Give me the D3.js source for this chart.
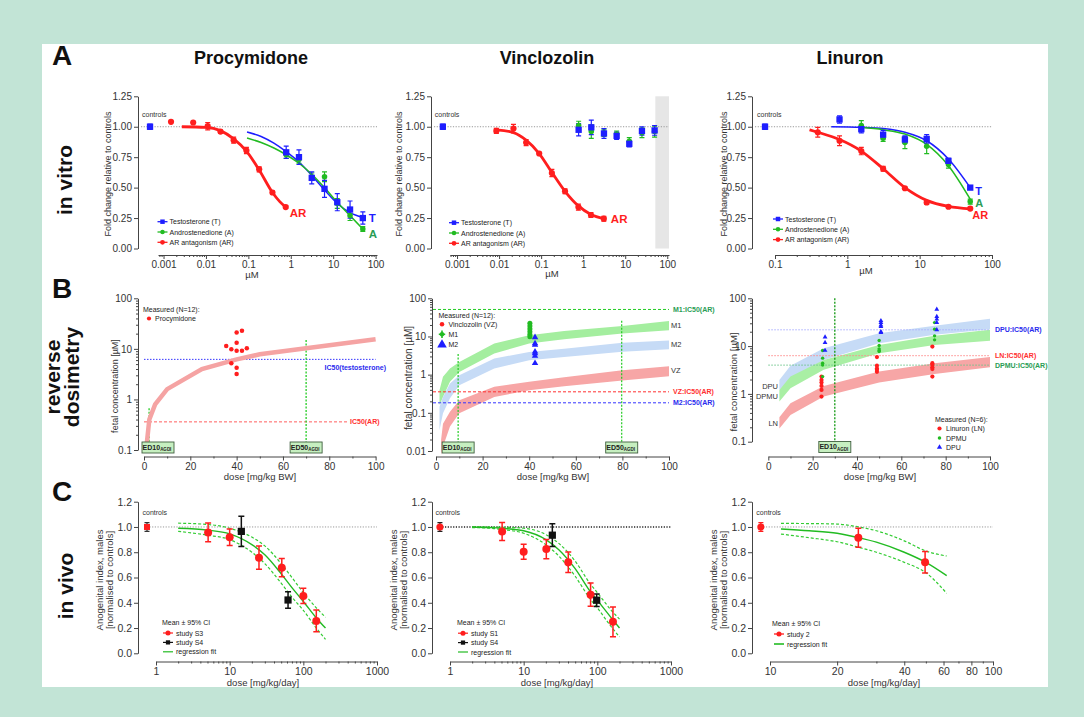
<!DOCTYPE html>
<html><head><meta charset="utf-8">
<script src="https://cdn.jsdelivr.net/npm/d3@7"></script>
<style>body{margin:0;background:#c2e4d6;} svg{display:block;}</style>
</head><body><svg id="c" width="1084" height="717"></svg>
<script>
// ================= DATA =================
// ---- Row A: in vitro (x = µM, y = fold change) ----
const aProcDose = [0.78, 1.56, 3.125, 6.25, 12.5, 25, 50];
const aProcT    = [0.79, 0.75, 0.58, 0.49, 0.38, 0.32, 0.25];
const aProcTErr = [0.05, 0.06, 0.05, 0.07, 0.07, 0.07, 0.05];
const aProcA    = [0.77, 0.73, 0.59, 0.59, 0.37, 0.27, 0.16];
const aProcAErr = [0.03, 0.03, 0.03, 0.04, 0.04, 0.04, 0.02];
const aProcARDose = [0.0015, 0.005, 0.011, 0.022, 0.045, 0.09, 0.18, 0.37, 0.76];
const aProcAR     = [1.04, 1.035, 1.005, 0.96, 0.89, 0.805, 0.65, 0.46, 0.34];
const aProcARErr  = [0, 0, 0.03, 0.012, 0.025, 0.025, 0.02, 0.012, 0.01];
const aProcTFitX  = [0.093, 0.2, 0.4, 0.78, 1.56, 3.125, 6.25, 12.5, 25, 50];
const aProcTFitY  = [0.957, 0.92, 0.865, 0.795, 0.71, 0.60, 0.48, 0.37, 0.295, 0.255];
const aProcAFitY  = [0.908, 0.87, 0.825, 0.77, 0.70, 0.61, 0.50, 0.38, 0.27, 0.16];
const aProcARFitX = [0.0027, 0.01, 0.022, 0.045, 0.09, 0.18, 0.37, 0.55, 0.76];
const aProcARFitY = [1.0, 0.995, 0.968, 0.90, 0.80, 0.645, 0.46, 0.385, 0.34];

const aVincDose = [0.78, 1.56, 3.125, 6.25, 12.5, 25, 50];
const aVincT    = [0.975, 0.995, 0.945, 0.925, 0.86, 0.965, 0.97];
const aVincTErr = [0.05, 0.06, 0.04, 0.03, 0.025, 0.035, 0.04];
const aVincA    = [1.01, 0.96, 0.95, 0.94, 0.88, 0.95, 0.96];
const aVincAErr = [0.035, 0.055, 0.03, 0.025, 0.03, 0.04, 0.045];
const aVincARDose = [0.0086, 0.022, 0.044, 0.09, 0.18, 0.37, 0.77, 1.53, 3.1];
const aVincAR     = [0.966, 0.985, 0.87, 0.78, 0.62, 0.47, 0.34, 0.275, 0.245];
const aVincARErr  = [0.02, 0.035, 0.025, 0.01, 0.03, 0.02, 0.025, 0.02, 0.02];
const aVincARFitY = [0.975, 0.952, 0.89, 0.78, 0.625, 0.47, 0.35, 0.28, 0.245];
const aVincCytotox = [52, 110];

const aLinDose   = [0.39, 0.78, 1.56, 3.125, 6.25, 12.5, 25, 50];
const aLinAR     = [0.955, 0.885, 0.80, 0.655, 0.495, 0.378, 0.343, 0.328];
const aLinARErr  = [0.04, 0.04, 0.03, 0.02, 0.01, 0.015, 0.01, 0.01];
const aLinTDose  = [0.78, 1.56, 3.125, 6.25, 12.5, 25, 50];
const aLinT      = [1.06, 0.98, 0.935, 0.895, 0.90, 0.72, 0.50];
const aLinTErr   = [0.03, 0.03, 0.035, 0.03, 0.035, 0.02, 0.01];
const aLinADose  = [1.56, 3.125, 6.25, 12.5, 25, 50];
const aLinA      = [1.01, 0.905, 0.87, 0.84, 0.69, 0.385];
const aLinAErr   = [0.04, 0.025, 0.05, 0.06, 0.03, 0.02];
const aLinARFitX = [0.3, 0.39, 0.78, 1.56, 3.125, 6.25, 12.5, 25, 50];
const aLinARFitY = [0.975, 0.955, 0.895, 0.80, 0.655, 0.50, 0.395, 0.345, 0.325];
const aLinTFitX  = [0.6, 1.56, 3.125, 6.25, 12.5, 25, 50];
const aLinTFitY  = [1.0, 0.995, 0.985, 0.955, 0.885, 0.735, 0.50];
const aLinAFitX  = [1.56, 3.125, 6.25, 12.5, 25, 50];
const aLinAFitY  = [0.995, 0.975, 0.94, 0.855, 0.68, 0.405];

// controls: nominal position on the broken part of each x axis, value, error
const ctrlPos = {aProc: 0.00048, aVinc: 0.00046, aLin: 0.0728, cProc: 0.755, cVinc: 0.73, cLin: 9.1};
const aCtrl = [1.0, 0.022];

// ---- Row B: reverse dosimetry (x = dose mg/kg BW, y = fetal conc µM) ----
const bProcLineX = [0.9, 2.3, 4.8, 10, 25, 40, 50, 70, 100];
const bProcLineY = [0.1, 0.40, 0.8, 1.6, 4.0, 6.2, 7.8, 10.3, 15.5];
const bProcPtsX  = [35.5, 37.7, 37.7, 40, 40, 40, 40, 40, 42.3, 42.3, 44.4];
const bProcPtsY  = [11.4, 9.8, 5.2, 21, 13.2, 9.2, 4.25, 3.2, 22.9, 9.2, 10.3];
const bProcIC50  = [6.2, 0.36];         // testosterone, AR
const bProcED    = [2.2, 70];            // ED10, ED50 doses
const bProcEDTop = [0.67, 15];

const bVincDose = [1.5, 3, 6, 10, 25, 40, 55, 80, 100];
const bVincM1Lo = [0.16, 0.26, 0.65, 1.18, 3.6, 6.5, 8.4, 11.9, 14.5];
const bVincM1Hi = [0.39, 0.88, 1.45, 2.16, 6.5, 10.8, 14, 18.9, 25.6];
const bVincM2Lo = [0.035, 0.098, 0.24, 0.53, 1.45, 2.4, 2.9, 4.0, 4.6];
const bVincM2Hi = [0.144, 0.26, 0.59, 0.97, 2.65, 3.95, 4.8, 6.9, 7.9];
const bVincVZDose = [2.2, 3, 6, 10, 25, 40, 55, 80, 100];
const bVincVZLo = [0.008, 0.013, 0.044, 0.098, 0.26, 0.39, 0.5, 0.7, 0.91];
const bVincVZHi = [0.02, 0.052, 0.107, 0.215, 0.48, 0.65, 0.85, 1.3, 1.67];
const bVincM1PtsY = [22.2, 18.9, 15.8, 13.2, 11.2, 9.8];
const bVincM2PtsY = [9.5, 6.6, 6.0, 4.0, 3.6, 3.1, 2.0];
const bVincPtsDose = [40.3, 42.5];
const bVincIC50 = [51, 0.355, 0.183];    // M1, VZ, M2
const bVincED = [9.5, 79.7];
const bVincEDTop = [3.5, 26];

const bLinDose  = [5, 10, 25, 50, 75, 100];
const bLinDPULo = [1.21, 1.96, 5.15, 11.5, 17.2, 22.6];
const bLinDPUHi = [1.96, 3.86, 9.0, 18.6, 26.5, 37.2];
const bLinDPMULo = [0.69, 1.31, 3.2, 7.1, 10.6, 12.9];
const bLinDPMUHi = [1.21, 2.3, 5.15, 10.6, 16.4, 21.9];
const bLinLNLo  = [0.19, 0.36, 0.88, 1.73, 2.6, 3.6];
const bLinLNHi  = [0.325, 0.64, 1.47, 2.94, 4.4, 5.9];
const bLinLNX   = [24, 24, 24, 24, 24, 24, 49, 49, 49, 49, 49, 74, 74, 74, 74, 74, 74];
const bLinLNY   = [2.3, 1.96, 1.73, 1.47, 1.21, 0.88, 5.9, 3.9, 3.4, 3.2, 2.9, 9.8, 4.4, 4.05, 3.6, 3.3, 2.3];
const bLinDPMUX = [24.5, 24.5, 24.5, 24.5, 24.5, 50, 50, 50, 50, 50, 75, 75, 75, 75];
const bLinDPMUY = [8.1, 5.6, 4.4, 4.0, 2.3, 13.1, 10.3, 8.75, 8.1, 7.7, 31, 22.6, 16.4, 13.5];
const bLinDPUX  = [25.6, 25.6, 25.6, 50.8, 50.8, 50.8, 50.8, 50.8, 50.8, 76, 76, 76, 76, 76];
const bLinDPUY  = [15.4, 11.9, 8.1, 34, 31, 27.6, 25.7, 20, 19.2, 59, 41.5, 36.5, 31, 21.9];
const bLinIC50  = [21.9, 6.3, 4.0];      // DPU, LN, DPMU
const bLinED    = [30];

// ---- Row C: in vivo (x = dose mg/kg/day, y = AGD index) ----
const cCtrl = [1.0, 0.035];
const cProcS3X = [5.1, 10, 25, 51, 100, 150];
const cProcS3Y = [0.957, 0.918, 0.757, 0.678, 0.454, 0.256];
const cProcS3E = [0.075, 0.065, 0.092, 0.072, 0.06, 0.086];
const cProcS4X = [14.4, 62];
const cProcS4Y = [0.965, 0.422];
const cProcS4E = [0.12, 0.065];
const cProcFitX  = [2, 5, 10, 20, 30, 50, 70, 100, 150, 200];
const cProcFitY  = [0.99, 0.975, 0.945, 0.86, 0.78, 0.63, 0.52, 0.41, 0.28, 0.20];
const cProcFitHi = [1.03, 1.02, 0.99, 0.92, 0.85, 0.71, 0.60, 0.48, 0.36, 0.285];
const cProcFitLo = [0.965, 0.935, 0.90, 0.80, 0.71, 0.555, 0.445, 0.34, 0.20, 0.11];

const cVincS1X = [5.1, 10, 20.3, 40.3, 81, 163];
const cVincS1Y = [0.964, 0.804, 0.825, 0.72, 0.464, 0.249];
const cVincS1E = [0.072, 0.06, 0.076, 0.081, 0.092, 0.118];
const cVincS4X = [24.5, 98];
const cVincS4Y = [0.935, 0.42];
const cVincS4E = [0.09, 0.05];
const cVincFitX  = [2, 3.5, 5, 10, 20, 30, 50, 80, 100, 150, 200];
const cVincFitY  = [1.0, 0.995, 0.99, 0.97, 0.90, 0.82, 0.67, 0.49, 0.42, 0.29, 0.20];
const cVincFitHi = [1.0, 1.0, 0.998, 0.99, 0.94, 0.87, 0.73, 0.55, 0.48, 0.35, 0.27];
const cVincFitLo = [0.995, 0.99, 0.98, 0.95, 0.86, 0.77, 0.61, 0.43, 0.36, 0.22, 0.13];

const cLinS2X = [24.9, 49.6];
const cLinS2Y = [0.915, 0.72];
const cLinS2E = [0.075, 0.085];
const cLinFitX  = [11.2, 15, 20, 25, 30, 40, 50, 62];
const cLinFitY  = [0.984, 0.97, 0.95, 0.915, 0.88, 0.80, 0.72, 0.615];
const cLinFitHi = [1.028, 1.027, 1.023, 1.0, 0.97, 0.89, 0.81, 0.77];
const cLinFitLo = [0.944, 0.915, 0.883, 0.839, 0.80, 0.72, 0.638, 0.475];

// ---- tick labels ----
const aYTicks = [0, 0.25, 0.5, 0.75, 1.0, 1.25];
const aYLabels = ["0.00", "0.25", "0.50", "0.75", "1.00", "1.25"];
const aXTicks = [0.001, 0.01, 0.1, 1, 10, 100];
const aXLabels = ["0.001", "0.01", "0.1", "1", "10", "100"];
const aLinXTicks = [0.1, 1, 10, 100];
const aLinXLabels = ["0.1", "1", "10", "100"];
const bYTicks = [0.1, 1, 10, 100];
const bYLabels = ["0.1", "1", "10", "100"];
const bVincYTicks = [0.01, 0.1, 1, 10, 100];
const bVincYLabels = ["0.01", "0.1", "1", "10", "100"];
const bXTicks = [0, 20, 40, 60, 80, 100];
const bXLabels = ["0", "20", "40", "60", "80", "100"];
const bXMinor = [10, 30, 50, 70, 90];
const cYTicks = [0, 0.2, 0.4, 0.6, 0.8, 1.0, 1.2];
const cYLabels = ["0.0", "0.2", "0.4", "0.6", "0.8", "1.0", "1.2"];
const cXTicks = [1, 10, 100, 1000];
const cXLabels = ["1", "10", "100", "1000"];
const cLinXTicks = [10, 20, 40, 60, 80, 100];
const cLinXLabels = ["10", "20", "40", "60", "80", "100"];
const cLinXMinor = [30, 50, 70, 90];

// ================= DRAWING =================
const FONT = '"Liberation Sans", Arial, Helvetica, sans-serif';
const RED = "#ff1e1e", BLUE = "#1e1eff", GREEN = "#22bb22", TXTGREEN = "#2a9d55";
const svg = d3.select("#c");
svg.append("rect").attr("width", 1084).attr("height", 717).attr("fill", "#c2e4d6");
svg.append("rect").attr("x", 42).attr("y", 44).attr("width", 1006).attr("height", 643).attr("fill", "#fff");

function txt(x, y, s, o = {}) {
  const t = svg.append("text").attr("x", x).attr("y", y).text(s)
    .attr("font-family", FONT).attr("font-size", o.fs || 9).attr("fill", o.fill || "#222")
    .attr("font-weight", o.bold ? "bold" : "normal").attr("text-anchor", o.anchor || "start");
  if (o.rot) t.attr("transform", `rotate(${o.rot},${x},${y})`);
  return t;
}
function logMinor(scale) {
  const [a, b] = scale.domain(); const out = [];
  for (let k = Math.floor(Math.log10(a)); k <= Math.ceil(Math.log10(b)); k++)
    for (let m = 2; m <= 9; m++) { const v = m * Math.pow(10, k); if (v >= a && v <= b) out.push(v); }
  return out;
}
function drawAxis(kind, pos, scale, major, labels, minor, fs = 10) {
  const mk = kind === "left" ? d3.axisLeft : d3.axisBottom;
  const tr = kind === "left" ? `translate(${pos},0)` : `translate(0,${pos})`;
  if (minor && minor.length) {
    const m = svg.append("g").attr("transform", tr)
      .call(mk(scale).tickValues(minor).tickFormat(() => "").tickSize(2).tickSizeOuter(0));
    m.select(".domain").remove();
    m.selectAll("line").attr("stroke", "#444");
  }
  const g = svg.append("g").attr("transform", tr)
    .call(mk(scale).tickValues(major).tickFormat(d => labels[major.indexOf(d)]).tickSize(4).tickSizeOuter(0).tickPadding(2));
  g.attr("font-family", FONT).attr("font-size", fs);
  g.select(".domain").attr("stroke", "#444");
  g.selectAll(".tick line").attr("stroke", "#444");
  g.selectAll(".tick text").attr("fill", "#333");
  return g;
}
function zip(xs, ys) { return xs.map((x, i) => [x, ys[i]]); }
function curve(xs, ys, sx, sy, color, w, dash) {
  const p = svg.append("path").datum(zip(xs, ys))
    .attr("d", d3.line().x(d => sx(d[0])).y(d => sy(d[1])).curve(d3.curveMonotoneX))
    .attr("fill", "none").attr("stroke", color).attr("stroke-width", w);
  if (dash) p.attr("stroke-dasharray", dash);
  return p;
}
function band(xs, lo, hi, sx, sy, color) {
  svg.append("path").datum(xs.map((x, i) => [x, lo[i], hi[i]]))
    .attr("d", d3.area().x(d => sx(d[0])).y0(d => sy(d[1])).y1(d => sy(d[2])))
    .attr("fill", color).attr("stroke", "none");
}
function errBars(xs, ys, es, sx, sy, color, cap = 2.5, w = 1.2) {
  svg.append("g").selectAll("path").data(xs.map((x, i) => [x, ys[i], es[i]]).filter(d => d[2] > 0)).join("path")
    .attr("d", d => {
      const x = sx(d[0]), y1 = sy(d[1] - d[2]), y2 = sy(d[1] + d[2]);
      return `M${x},${y1}V${y2}M${x - cap},${y1}H${x + cap}M${x - cap},${y2}H${x + cap}`;
    })
    .attr("stroke", color).attr("stroke-width", w).attr("fill", "none");
}
const SYM = {circle: d3.symbolCircle, square: d3.symbolSquare, triangle: d3.symbolTriangle};
function marks(type, xs, ys, sx, sy, color, size) {
  svg.append("g").selectAll("path").data(zip(xs, ys)).join("path")
    .attr("transform", d => `translate(${sx(d[0])},${sy(d[1])})`)
    .attr("d", d3.symbol(SYM[type], size)).attr("fill", color);
}
function hline(x1, x2, y, color, dash, w = 1) {
  svg.append("line").attr("x1", x1).attr("x2", x2).attr("y1", y).attr("y2", y)
    .attr("stroke", color).attr("stroke-width", w).attr("stroke-dasharray", dash);
}
function vline(x, y1, y2, color, dash, w = 1) {
  svg.append("line").attr("x1", x).attr("x2", x).attr("y1", y1).attr("y2", y2)
    .attr("stroke", color).attr("stroke-width", w).attr("stroke-dasharray", dash);
}
function legendItem(x, y, type, color, label, o = {}) {
  if (o.line !== false) svg.append("line").attr("x1", x - 5).attr("x2", x + 5).attr("y1", y).attr("y2", y)
    .attr("stroke", o.lineColor || color).attr("stroke-width", o.lw || 1.3);
  if (type) svg.append("path").attr("transform", `translate(${x},${y})`).attr("d", d3.symbol(SYM[type], o.size || 18)).attr("fill", color);
  txt(x + (o.dx || 7), y + 2.5, label, {fs: o.fs || 7, fill: "#222"});
}
function edBox(cx, sub, minX, yBottom, label) {
  const w = 32, h = 11; const x = Math.max(cx - w / 2, minX);
  svg.append("rect").attr("x", x).attr("y", yBottom - h).attr("width", w).attr("height", h)
    .attr("fill", "#c6efc0").attr("stroke", "#3f5f3f").attr("stroke-width", 0.9);
  const t = svg.append("text").attr("x", x + w / 2 - 1).attr("y", yBottom - 3.2).attr("text-anchor", "middle")
    .attr("font-family", FONT).attr("font-weight", "bold").attr("font-size", 7).attr("fill", "#222");
  t.append("tspan").text(label);
  t.append("tspan").attr("font-size", 4.5).attr("dy", 1.5).text(sub);
}

// ---------- headers ----------
txt(52, 65, "A", {fs: 28, bold: true, fill: "#111"});
txt(52, 298, "B", {fs: 28, bold: true, fill: "#111"});
txt(52, 501, "C", {fs: 28, bold: true, fill: "#111"});
txt(251, 64, "Procymidone", {fs: 18, bold: true, anchor: "middle", fill: "#111"});
txt(547, 64, "Vinclozolin", {fs: 18, bold: true, anchor: "middle", fill: "#111"});
txt(850, 64, "Linuron", {fs: 18, bold: true, anchor: "middle", fill: "#111"});
txt(72, 180, "in vitro", {fs: 21, bold: true, anchor: "middle", rot: -90, fill: "#111"});
txt(60, 377, "reverse", {fs: 21, bold: true, anchor: "middle", rot: -90, fill: "#111"});
txt(79, 377, "dosimetry", {fs: 21, bold: true, anchor: "middle", rot: -90, fill: "#111"});
txt(73, 586, "in vivo", {fs: 21, bold: true, anchor: "middle", rot: -90, fill: "#111"});

// ================= ROW A =================
const yA = d3.scaleLinear([0, 1.25], [248.5, 96.3]);
function rowAFrame(axisX, sx, xTicks, xLabels, ctrl, yLabX, muX, muY) {
  hline(axisX + 3, sx.range()[1], yA(1), "#999", "1.2,1.5");
  drawAxis("left", axisX, yA, aYTicks, aYLabels, null, 10);
  drawAxis("bottom", 255, sx, xTicks, xLabels, logMinor(sx), 10);
  txt(yLabX, 174, "Fold change relative to controls", {fs: 9, anchor: "middle", rot: -90, fill: "#333"});
  txt(muX, muY, "µM", {fs: 9.5, anchor: "middle", fill: "#333"});
  txt(sx(ctrl) - 8, yA(1) - 10, "controls", {fs: 7, fill: "#333"});
  errBars([ctrl], [aCtrl[0]], [aCtrl[1]], sx, yA, BLUE, 2.5, 1.2);
  marks("square", [ctrl], [aCtrl[0]], sx, yA, BLUE, 40);
}
function rowALegend(x, y0) {
  legendItem(x, y0, "square", BLUE, "Testosterone (T)", {size: 20});
  legendItem(x, y0 + 10.3, "circle", GREEN, "Androstenedione (A)", {size: 16});
  legendItem(x, y0 + 20.6, "circle", RED, "AR antagonism (AR)", {size: 18});
}

// --- A Procymidone ---
{
  const sx = d3.scaleLog([0.00074, 108], [158, 377]);
  rowAFrame(138, sx, aXTicks, aXLabels, ctrlPos.aProc, 111, 252, 278);
  curve(aProcTFitX, aProcTFitY, sx, yA, BLUE, 1.5);
  curve(aProcTFitX, aProcAFitY, sx, yA, GREEN, 1.5);
  curve(aProcARFitX, aProcARFitY, sx, yA, RED, 2.8);
  errBars(aProcDose, aProcA, aProcAErr, sx, yA, GREEN);
  errBars(aProcDose, aProcT, aProcTErr, sx, yA, BLUE);
  errBars(aProcARDose, aProcAR, aProcARErr, sx, yA, RED);
  marks("circle", aProcDose, aProcA, sx, yA, GREEN, 24);
  marks("square", aProcDose, aProcT, sx, yA, BLUE, 40);
  marks("circle", aProcARDose, aProcAR, sx, yA, RED, 30);
  txt(sx(50) + 6, yA(0.25) + 3.5, "T", {fs: 11.5, bold: true, fill: BLUE});
  txt(sx(50) + 6, yA(0.16) + 8.5, "A", {fs: 11.5, bold: true, fill: TXTGREEN});
  txt(sx(0.76) + 4, yA(0.34) + 10, "AR", {fs: 11.5, bold: true, fill: RED});
  rowALegend(162.5, 221.7);
}
// --- A Vinclozolin ---
{
  const sx = d3.scaleLog([0.00068, 110], [450, 669]);
  svg.append("rect").attr("x", sx(aVincCytotox[0])).attr("y", yA(1.25))
    .attr("width", sx(aVincCytotox[1]) - sx(aVincCytotox[0])).attr("height", yA(0) - yA(1.25)).attr("fill", "#e6e6e6");
  rowAFrame(431, sx, aXTicks, aXLabels, ctrlPos.aVinc, 402, 552, 277);
  curve(aVincARDose, aVincARFitY, sx, yA, RED, 2.8);
  errBars(aVincDose, aVincA, aVincAErr, sx, yA, GREEN);
  errBars(aVincDose, aVincT, aVincTErr, sx, yA, BLUE);
  errBars(aVincARDose, aVincAR, aVincARErr, sx, yA, RED);
  marks("circle", aVincDose, aVincA, sx, yA, GREEN, 24);
  marks("square", aVincDose, aVincT, sx, yA, BLUE, 40);
  marks("circle", aVincARDose, aVincAR, sx, yA, RED, 30);
  txt(sx(3.1) + 7, yA(0.245) + 4.5, "AR", {fs: 11.5, bold: true, fill: RED});
  rowALegend(454, 222.7);
}
// --- A Linuron ---
{
  const sx = d3.scaleLog([0.1, 100], [775, 992]);
  rowAFrame(752, sx, aLinXTicks, aLinXLabels, ctrlPos.aLin, 727, 866, 274);
  curve(aLinTFitX, aLinTFitY, sx, yA, BLUE, 1.5);
  curve(aLinAFitX, aLinAFitY, sx, yA, GREEN, 1.5);
  curve(aLinARFitX, aLinARFitY, sx, yA, RED, 2.8);
  errBars(aLinADose, aLinA, aLinAErr, sx, yA, GREEN);
  errBars(aLinTDose, aLinT, aLinTErr, sx, yA, BLUE);
  errBars(aLinDose, aLinAR, aLinARErr, sx, yA, RED);
  marks("circle", aLinADose, aLinA, sx, yA, GREEN, 24);
  marks("square", aLinTDose, aLinT, sx, yA, BLUE, 40);
  marks("circle", aLinDose, aLinAR, sx, yA, RED, 30);
  txt(sx(50) + 5, yA(0.505) + 8, "T", {fs: 11, bold: true, fill: BLUE});
  txt(sx(50) + 5, yA(0.385) + 5, "A", {fs: 11, bold: true, fill: TXTGREEN});
  txt(sx(50) + 2, yA(0.328) + 10.5, "AR", {fs: 11, bold: true, fill: RED});
  rowALegend(778, 219);
}

// ================= ROW B =================
function rowBFrame(axisX, sy, yT, yL, sx, yLabX, yLabY, yLabFs, xLabX) {
  drawAxis("left", axisX, sy, yT, yL, logMinor(sy), 10);
  drawAxis("bottom", 456.5, sx, bXTicks, bXLabels, bXMinor, 10);
  txt(yLabX, yLabY, "fetal concentration [µM]", {fs: yLabFs, anchor: "middle", rot: -90, fill: "#333"});
  txt(xLabX, 480, "dose [mg/kg BW]", {fs: 9.5, anchor: "middle", fill: "#333"});
}
// --- B Procymidone ---
{
  const sy = d3.scaleLog([0.1, 100], [450, 298.3]);
  const sx = d3.scaleLinear([0, 100], [144, 375.6]);
  hline(sx(0), sx(100), sy(bProcIC50[0]), "#3535ff", "1.5,1.5", 1);
  hline(sx(0), sx(88), sy(bProcIC50[1]), "#ff6060", "3,2", 1);
  bProcED.forEach((d, i) => vline(sx(d), sy(bProcEDTop[i]), sy(0.1), "#22cc22", "2,1.5", 1.3));
  svg.append("path").datum(zip(bProcLineX, bProcLineY))
    .attr("d", d3.line().x(d => sx(d[0])).y(d => sy(d[1])))
    .attr("fill", "none").attr("stroke", "#f5a3a3").attr("stroke-width", 4.5);
  marks("circle", bProcPtsX, bProcPtsY, sx, sy, RED, 16);
  rowBFrame(138, sy, bYTicks, bYLabels, sx, 118, 386, 9, 260);
  txt(386, sy(bProcIC50[0]) + 10.5, "IC50(testosterone)", {fs: 7, bold: true, fill: "#2a2aee", anchor: "end"});
  txt(350, sy(bProcIC50[1]) + 2.5, "IC50(AR)", {fs: 7, bold: true, fill: "#ff3030"});
  edBox(sx(bProcED[0]), "AGDI", 142, 453, "ED10");
  edBox(sx(bProcED[1]), "AGDI", 142, 453, "ED50");
  txt(143, 312, "Measured (N=12):", {fs: 7, fill: "#222"});
  legendItem(149, 318.5, "circle", RED, "Procymidone", {line: false, size: 14, dx: 6});
}
// --- B Vinclozolin ---
{
  const sy = d3.scaleLog([0.01, 100], [451, 298.3]);
  const sx = d3.scaleLinear([0, 100], [436, 669]);
  band(bVincDose, bVincM1Lo, bVincM1Hi, sx, sy, "#a4ee9f");
  band(bVincDose, bVincM2Lo, bVincM2Hi, sx, sy, "#c6dbf6");
  band(bVincVZDose, bVincVZLo, bVincVZHi, sx, sy, "#f7a6a6");
  hline(433, sx(100), sy(bVincIC50[0]), "#22cc22", "3,2", 1);
  hline(433, sx(100), sy(bVincIC50[1]), "#ff3030", "3,2", 1);
  hline(433, sx(100), sy(bVincIC50[2]), "#3535ff", "3,2", 1);
  bVincED.forEach((d, i) => vline(sx(d), sy(bVincEDTop[i]), sy(0.01), "#22cc22", "2,1.5", 1.2));
  vline(sx(bVincPtsDose[0]), sy(d3.min(bVincM1PtsY)), sy(d3.max(bVincM1PtsY)), GREEN, null, 1.5);
  marks("circle", bVincM1PtsY.map(() => bVincPtsDose[0]), bVincM1PtsY, sx, sy, GREEN, 20);
  marks("triangle", bVincM2PtsY.map(() => bVincPtsDose[1]), bVincM2PtsY, sx, sy, BLUE, 18);
  rowBFrame(432, sy, bVincYTicks, bVincYLabels, sx, 412, 378, 10, 553);
  txt(673, sy(bVincIC50[0]) + 2.5, "M1:IC50(AR)", {fs: 7, bold: true, fill: TXTGREEN});
  txt(673, sy(bVincIC50[1]) + 2.5, "VZ:IC50(AR)", {fs: 7, bold: true, fill: "#ff3030"});
  txt(673, sy(bVincIC50[2]) + 2.5, "M2:IC50(AR)", {fs: 7, bold: true, fill: "#2a2aee"});
  txt(671, sy(19.5) + 2.5, "M1", {fs: 7.5, fill: "#333"});
  txt(671, sy(6.2) + 2.5, "M2", {fs: 7.5, fill: "#333"});
  txt(671, sy(1.3) + 2.5, "VZ", {fs: 7.5, fill: "#333"});
  edBox(sx(bVincED[0]), "AGDI", 436, 453, "ED10");
  edBox(sx(bVincED[1]), "AGDI", 436, 453, "ED50");
  txt(438.5, 317.5, "Measured (N=12):", {fs: 7, fill: "#222"});
  legendItem(442, 324.3, "circle", RED, "Vinclozolin (VZ)", {line: false, size: 16, dx: 6.5});
  svg.append("line").attr("x1", 442).attr("x2", 442).attr("y1", 330.5).attr("y2", 338).attr("stroke", GREEN).attr("stroke-width", 1.6);
  svg.append("line").attr("x1", 438.8).attr("x2", 445.2).attr("y1", 334.3).attr("y2", 334.3).attr("stroke", GREEN).attr("stroke-width", 1.6);
  legendItem(442, 334.3, "circle", GREEN, "M1", {line: false, size: 16, dx: 6.5});
  legendItem(442, 344.8, "triangle", BLUE, "M2", {line: false, size: 40, dx: 6.5});
}
// --- B Linuron ---
{
  const sy = d3.scaleLog([0.1, 100], [441.7, 298.3]);
  const sx = d3.scaleLinear([0, 100], [768.3, 990]);
  band(bLinDose, bLinDPULo, bLinDPUHi, sx, sy, "#c6dbf6");
  band(bLinDose, bLinDPMULo, bLinDPMUHi, sx, sy, "#a9efa4");
  band(bLinDose, bLinLNLo, bLinLNHi, sx, sy, "#f7a6a6");
  hline(sx(0), sx(100), sy(bLinIC50[0]), "#a8acff", "1.5,1.5", 1);
  hline(sx(0), sx(100), sy(bLinIC50[1]), "#ff8a8a", "1.5,1.5", 1);
  hline(sx(0), sx(100), sy(bLinIC50[2]), "#6cc48a", "1.5,1.5", 1);
  vline(sx(bLinED[0]), sy(100), sy(0.1), "#119911", "2,1.5", 1.3);
  marks("circle", bLinLNX, bLinLNY, sx, sy, RED, 14);
  marks("circle", bLinDPMUX, bLinDPMUY, sx, sy, GREEN, 9);
  marks("triangle", bLinDPUX, bLinDPUY, sx, sy, BLUE, 10);
  rowBFrame(752, sy, bYTicks, bYLabels, sx, 737, 382, 9.5, 880);
  txt(995, sy(bLinIC50[0]) + 2.5, "DPU:IC50(AR)", {fs: 7, bold: true, fill: "#2a2aee"});
  txt(995, sy(bLinIC50[1]) + 2.5, "LN:IC50(AR)", {fs: 7, bold: true, fill: "#ff3030"});
  txt(995, sy(bLinIC50[2]) + 2.5, "DPMU:IC50(AR)", {fs: 7, bold: true, fill: TXTGREEN});
  txt(778, 388.5, "DPU", {fs: 7.5, fill: "#333", anchor: "end"});
  txt(778, 399, "DPMU", {fs: 7.5, fill: "#333", anchor: "end"});
  txt(778, 426, "LN", {fs: 7.5, fill: "#333", anchor: "end"});
  edBox(sx(bLinED[0]), "AGDI", 768, 452.5, "ED10");
  txt(935, 422, "Measured (N=6):", {fs: 7, fill: "#222"});
  legendItem(939.5, 428.5, "circle", RED, "Linuron (LN)", {line: false, size: 14, dx: 6.5});
  legendItem(939.5, 438, "circle", GREEN, "DPMU", {line: false, size: 10, dx: 6.5});
  legendItem(939.5, 447.3, "triangle", BLUE, "DPU", {line: false, size: 12, dx: 6.5});
}

// ================= ROW C =================
const yC = d3.scaleLinear([0, 1.2], [653.3, 501.7]);
function rowCFrame(axisX, sx, xT, xL, xMinor, ctrl, ctrlSym, ctrlErrColor, dotColor, dotW, labX, xLabX) {
  hline(sx(ctrl) - 3, sx.range()[1], yC(1), dotColor, "1.2,1.5", dotW);
  drawAxis("left", axisX, yC, cYTicks, cYLabels, null, 10.5);
  drawAxis("bottom", 661.5, sx, xT, xL, xMinor, 10.5);
  txt(labX, 580, "Anogenital index, males", {fs: 9.5, anchor: "middle", rot: -90, fill: "#333"});
  txt(labX + 10, 580, "[normalised to controls]", {fs: 9.5, anchor: "middle", rot: -90, fill: "#333"});
  txt(xLabX, 686, "dose [mg/kg/day]", {fs: 9.5, anchor: "middle", fill: "#333"});
  txt(sx(ctrl) - 4.5, 515, "controls", {fs: 7, fill: "#333"});
  errBars([ctrl], [cCtrl[0]], [cCtrl[1]], sx, yC, ctrlErrColor, 2.5, 1.3);
  marks(ctrlSym, [ctrl], [cCtrl[0]], sx, yC, RED, ctrlSym === "square" ? 36 : 40);
}
function fitLines(xs, y, hi, lo, sx) {
  curve(xs, hi, sx, yC, "#33cc33", 1.2, "3,2");
  curve(xs, lo, sx, yC, "#33cc33", 1.2, "3,2");
  curve(xs, y, sx, yC, GREEN, 1.4);
}
function rowCLegend(x, yHead, rows) {
  txt(x - 3, yHead + 2.5, "Mean ± 95% CI", {fs: 7, fill: "#222"});
  rows.forEach((r, i) => legendItem(x + 3, yHead + 10.5 + i * 9.4, r[0], r[1], r[2], {size: r[0] === "square" ? 18 : 20, lineColor: r[1], lw: 1.2, dx: 8}));
}
// --- C Procymidone ---
{
  const sx = d3.scaleLog([1, 1000], [156, 377]);
  rowCFrame(138, sx, cXTicks, cXLabels, logMinor(sx), ctrlPos.cProc, "square", "#333", "#999", 1, 103, 263);
  fitLines(cProcFitX, cProcFitY, cProcFitHi, cProcFitLo, sx);
  errBars(cProcS3X, cProcS3Y, cProcS3E, sx, yC, RED, 3, 1.5);
  errBars(cProcS4X, cProcS4Y, cProcS4E, sx, yC, "#111", 3, 1.5);
  marks("circle", cProcS3X, cProcS3Y, sx, yC, RED, 50);
  marks("square", cProcS4X, cProcS4Y, sx, yC, "#111", 52);
  rowCLegend(165, 622.5, [["circle", RED, "study S3"], ["square", "#111", "study S4"], [null, GREEN, "regression fit"]]);
}
// --- C Vinclozolin ---
{
  const sx = d3.scaleLog([1, 1000], [450, 671]);
  rowCFrame(432, sx, cXTicks, cXLabels, logMinor(sx), ctrlPos.cVinc, "circle", "#222", "#222", 1.6, 397, 557);
  fitLines(cVincFitX, cVincFitY, cVincFitHi, cVincFitLo, sx);
  errBars(cVincS1X, cVincS1Y, cVincS1E, sx, yC, RED, 3, 1.5);
  errBars(cVincS4X, cVincS4Y, cVincS4E, sx, yC, "#111", 3, 1.5);
  marks("circle", cVincS1X, cVincS1Y, sx, yC, RED, 50);
  marks("square", cVincS4X, cVincS4Y, sx, yC, "#111", 52);
  rowCLegend(460, 622.7, [["circle", RED, "study S1"], ["square", "#111", "study S4"], [null, GREEN, "regression fit"]]);
}
// --- C Linuron ---
{
  const sx = d3.scaleLog([10, 100], [770, 993]);
  rowCFrame(752, sx, cLinXTicks, cLinXLabels, cLinXMinor, ctrlPos.cLin, "circle", RED, "#999", 1, 717, 884);
  fitLines(cLinFitX, cLinFitY, cLinFitHi, cLinFitLo, sx);
  errBars(cLinS2X, cLinS2Y, cLinS2E, sx, yC, RED, 3, 1.5);
  marks("circle", cLinS2X, cLinS2Y, sx, yC, RED, 50);
  txt(772, 625.8, "Mean ± 95% CI", {fs: 7, fill: "#222"});
  legendItem(779, 634, "circle", RED, "study 2", {size: 20, dx: 8});
  legendItem(779, 644, null, GREEN, "regression fit", {dx: 8, lw: 1.6});
}
</script></body></html>
